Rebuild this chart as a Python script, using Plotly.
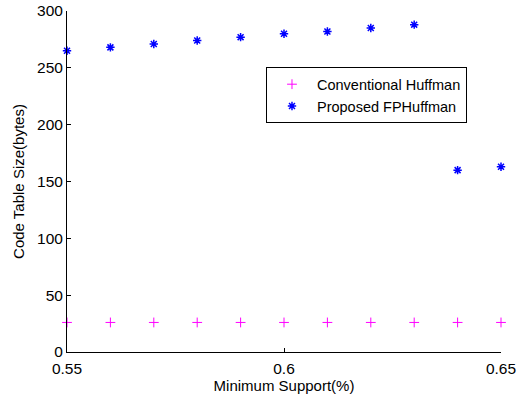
import plotly.graph_objects as go

min_support = [0.55, 0.56, 0.57, 0.58, 0.59, 0.60, 0.61, 0.62, 0.63, 0.64, 0.65]
conventional = [26, 26, 26, 26, 26, 26, 26, 26, 26, 26, 26]
proposed = [265, 268, 271, 274, 277, 280, 282, 285, 288, 160, 163]

x_ticks = [0.55, 0.6, 0.65]
x_tick_labels = ["0.55", "0.6", "0.65"]
y_ticks = [0, 50, 100, 150, 200, 250, 300]

font = "Liberation Sans, Arial, Helvetica, sans-serif"

fig = go.Figure()
fig.add_trace(go.Scatter(
    x=min_support, y=conventional, mode="markers", name="Conventional Huffman",
    cliponaxis=False,
    marker=dict(symbol="cross-thin", size=7, color="#ff00ff",
                line=dict(color="#ff00ff", width=1)),
))
fig.add_trace(go.Scatter(
    x=min_support, y=proposed, mode="markers", name="Proposed FPHuffman",
    cliponaxis=False,
    marker=dict(symbol="asterisk-open", size=7, color="#0000ff",
                line=dict(color="#0000ff", width=1.5)),
))

fig.update_layout(
    width=522, height=398,
    margin=dict(l=67, r=21, t=11, b=46, autoexpand=False),
    paper_bgcolor="white", plot_bgcolor="white",
    font=dict(family=font, size=15, color="black"),
    showlegend=True,
    legend=dict(
        x=0.4585, y=0.835, xanchor="left", yanchor="top",
        bgcolor="white", bordercolor="black", borderwidth=1,
        font=dict(size=14.5, family=font, color="black"),
        itemwidth=40, tracegroupgap=0,
    ),
    xaxis=dict(
        range=[0.55, 0.65], tickvals=x_ticks, ticktext=x_tick_labels,
        showgrid=False, zeroline=False, showline=True, linecolor="black", linewidth=1,
        ticks="inside", ticklen=4, tickcolor="black", ticklabelstandoff=2,
        automargin=False,
        title=dict(text="Minimum Support(%)", font=dict(size=15), standoff=2),
        tickfont=dict(size=15.5),
    ),
    yaxis=dict(
        range=[0, 300], tickvals=y_ticks,
        showgrid=False, zeroline=False, showline=True, linecolor="black", linewidth=1,
        ticks="inside", ticklen=4, tickcolor="black",
        automargin=False,
        title=dict(text="Code Table Size(bytes)", font=dict(size=15), standoff=8),
        tickfont=dict(size=15.5),
    ),
)

fig.write_html("out.html")
